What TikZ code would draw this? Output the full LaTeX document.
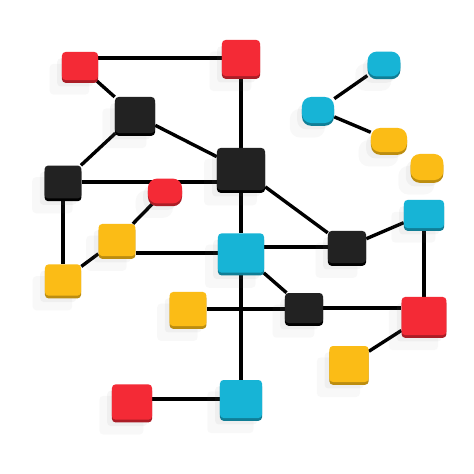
\documentclass[tikz,border=0pt]{standalone}
\usetikzlibrary{shadows,backgrounds}

\definecolor{nodered}{HTML}{F42A36}
\definecolor{nodeblack}{HTML}{222222}
\definecolor{nodecyan}{HTML}{17B4D6}
\definecolor{nodeyellow}{HTML}{FBBC16}

\begin{document}
\begin{tikzpicture}[x=0.025cm,y=-0.025cm]
      \tikzset{
        every node/.style={rectangle,rounded corners=2.5pt,inner sep=0pt,
          drop shadow={shadow xshift=-2.4mm,shadow yshift=-3mm,shadow scale=1.1,opacity=.05},
          drop shadow={shadow xshift=-1.2mm,shadow yshift=-1.6mm,opacity=.07}},
        boxsize/.style 2 args={minimum width=#1cm,minimum height=#2cm},
        pill/.style={rounded corners=6.5pt},
        redbox/.style={fill=nodered,general shadow={fill=nodered!70!black,shadow yshift=-.7mm}},
        blackbox/.style={fill=nodeblack,general shadow={fill=black,shadow yshift=-.7mm}},
        cyanbox/.style={fill=nodecyan,general shadow={fill=nodecyan!70!black,shadow yshift=-.7mm}},
        yellowbox/.style={fill=nodeyellow,general shadow={fill=nodeyellow!75!black,shadow yshift=-.7mm}},
        link/.style={line width=2.4pt,black}
      }
      \useasboundingbox (0,0) rectangle (474,474);

      % top left part
      \node[redbox,boxsize={0.9}{0.7}] (r1) at (80,66) {};
      \node[redbox,boxsize={0.95}{0.9}] (r2) at (241,58) {};
      \node[blackbox,boxsize={1.0}{0.9}] (k1) at (135,115) {};
      \node[blackbox,boxsize={1.2}{1.05}] (k2) at (241,169) {};
      \node[blackbox,boxsize={0.92}{0.82}] (k3) at (63,182) {};
      \node[redbox,pill,boxsize={0.85}{0.62}] (rp) at (165,191) {};
      \node[yellowbox,boxsize={0.92}{0.8}] (y1) at (117,240) {};
      \node[yellowbox,boxsize={0.9}{0.78}] (y2) at (63,280) {};

      % middle and right part
      \node[cyanbox,boxsize={1.15}{0.98}] (c1) at (241,253) {};
      \node[blackbox,boxsize={0.95}{0.8}] (k4) at (347,247) {};
      \node[cyanbox,boxsize={1.0}{0.7}] (c2) at (424,214) {};
      \node[blackbox,boxsize={0.95}{0.75}] (k5) at (304,308) {};
      \node[redbox,boxsize={1.12}{0.95}] (rr) at (424,316) {};
      \node[yellowbox,boxsize={0.92}{0.85}] (y3) at (188,309) {};
      \node[yellowbox,boxsize={0.98}{0.9}] (y4) at (349,364) {};
      \node[cyanbox,boxsize={1.05}{0.95}] (c3) at (241,399) {};
      \node[redbox,boxsize={1.0}{0.88}] (rb) at (132,402) {};

      % small group top right
      \node[cyanbox,pill,boxsize={0.82}{0.62}] (cp1) at (384,64) {};
      \node[cyanbox,pill,boxsize={0.8}{0.65}] (cp2) at (318,110) {};
      \node[yellowbox,pill,boxsize={0.9}{0.6}] (yp1) at (389,140) {};
      \node[yellowbox,pill,boxsize={0.82}{0.65}] (yp2) at (427,167) {};

      \begin{scope}[on background layer]
        \fill[white] (0,0) rectangle (474,474);
        \draw[link] (r2) edge (r2 -| r1.east)
              (r1) edge (k1)
              (k1) edge (k2)
              (k1) edge (k3)
              (r2) edge (k2)
              (k3) edge (k3 -| k2.west)
              (k3) edge (y2)
              (y2) edge (y1)
              (y1) edge (rp)
              (c1) edge (c1 -| y1.east)
              (k2) edge (c1)
              (c1) edge (c3)
              (k2) edge (k4)
              (k4) edge (k4 -| c1.east)
              (k4) edge (c2)
              (c2) edge (rr)
              (c1) edge (k5)
              (y3) edge (y3 -| k5.west)
              (k5) edge (k5 -| rr.west)
              (rr) edge (y4)
              (c3) edge (c3 -| rb.east)
              (cp2) edge (cp1)
              (cp2) edge (yp1);
      \end{scope}
    \end{tikzpicture}
\end{document}
